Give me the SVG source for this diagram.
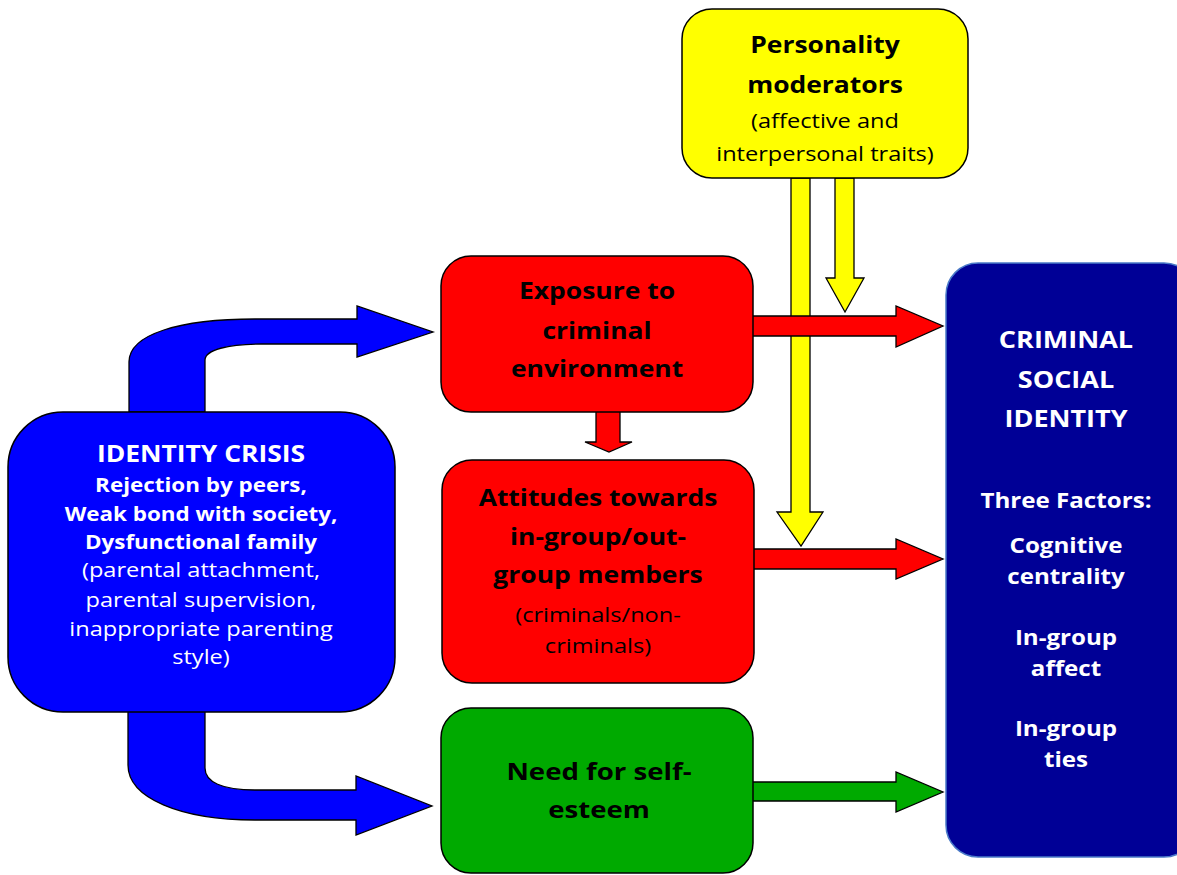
<svg xmlns="http://www.w3.org/2000/svg" width="1177" height="875" viewBox="0 0 1177 875">
<style>
.box{stroke:#000;stroke-width:1.5}
.arr{stroke:#000;stroke-width:1.3;stroke-linejoin:miter}
text{font-family:"Open Sans","Liberation Sans",sans-serif;text-anchor:middle}
.b{font-weight:bold}
.w{fill:#fff}
.k{fill:#000}
</style>
<rect width="1177" height="875" fill="#fff"/>
<g id="connectors">
  <path class="arr" fill="#0000ff" d="M129,412 L129,362 C129,334 180,319 255,319 L357,319 L357,306 L433,332 L357,357 L357,344 L262,344 C228,344 205,350 205,360 L205,412 Z"/>
  <path class="arr" fill="#0000ff" d="M128,710 L128,765 C128,798 180,820 255,820 L356,820 L356,835 L432,806 L356,776 L356,790 L255,790 C222,790 205,782 205,768 L205,710 Z"/>
  <path class="arr" fill="#ffff00" d="M791,178 L791,512 L777,512 L801,546 L823,512 L810,512 L810,178 Z"/>
  <path class="arr" fill="#ffff00" d="M835,178 L835,278 L826,278 L845,312 L864,278 L854,278 L854,178 Z"/>
  <path class="arr" fill="#ff0000" d="M752,316 L896,316 L896,306 L943,326 L896,347 L896,336 L752,336 Z"/>
  <path class="arr" fill="#ff0000" d="M753,549 L896,549 L896,539 L943,559 L896,579 L896,569 L753,569 Z"/>
  <path class="arr" fill="#00aa00" d="M752,782 L896,782 L896,772 L943,792 L896,812 L896,801 L752,801 Z"/>
  <path class="arr" fill="#ff0000" d="M596,411 L596,442 L585,442 L609,452 L632,442 L620,442 L620,411 Z"/>
</g>
<g id="identity-crisis">
  <rect class="box" x="8" y="412" width="387" height="300" rx="55" ry="55" fill="#0000ff"/>
  <g transform="translate(201 0) scale(1.15 1)">
    <text class="b w" x="0" y="462" font-size="23">IDENTITY CRISIS</text>
    <text class="b w" x="0" y="492" font-size="19.5">Rejection by peers,</text>
    <text class="b w" x="0" y="521" font-size="19.5">Weak bond with society,</text>
    <text class="b w" x="0" y="549" font-size="19.5">Dysfunctional family</text>
    <text class="w" x="0" y="577" font-size="20.5">(parental attachment,</text>
    <text class="w" x="0" y="607" font-size="20.5">parental supervision,</text>
    <text class="w" x="0" y="636" font-size="20.5">inappropriate parenting</text>
    <text class="w" x="0" y="664" font-size="20.5">style)</text>
  </g>
</g>
<g id="personality">
  <rect class="box" x="682" y="9" width="286" height="169" rx="30" ry="30" fill="#ffff00"/>
  <g transform="translate(825 0) scale(1.15 1)">
    <text class="b k" x="0" y="53" font-size="23">Personality</text>
    <text class="b k" x="0" y="93" font-size="23">moderators</text>
    <text class="k" x="0" y="128" font-size="20.5">(affective and</text>
    <text class="k" x="0" y="161" font-size="20.5">interpersonal traits)</text>
  </g>
</g>
<g id="exposure">
  <rect class="box" x="441" y="256" width="312" height="156" rx="30" ry="30" fill="#ff0000"/>
  <g transform="translate(597 0) scale(1.15 1)">
    <text class="b k" x="0" y="299" font-size="23">Exposure to</text>
    <text class="b k" x="0" y="339" font-size="23">criminal</text>
    <text class="b k" x="0" y="377" font-size="23">environment</text>
  </g>
</g>
<g id="attitudes">
  <rect class="box" x="442" y="460" width="312" height="223" rx="30" ry="30" fill="#ff0000"/>
  <g transform="translate(598 0) scale(1.15 1)">
    <text class="b k" x="0" y="506" font-size="23">Attitudes towards</text>
    <text class="b k" x="0" y="545" font-size="23">in-group/out-</text>
    <text class="b k" x="0" y="583" font-size="23">group members</text>
    <text class="k" x="0" y="622" font-size="20.5">(criminals/non-</text>
    <text class="k" x="0" y="653" font-size="20.5">criminals)</text>
  </g>
</g>
<g id="self-esteem">
  <rect class="box" x="441" y="708" width="312" height="165" rx="30" ry="30" fill="#00aa00"/>
  <g transform="translate(599 0) scale(1.15 1)">
    <text class="b k" x="0" y="780" font-size="24">Need for self-</text>
    <text class="b k" x="0" y="818" font-size="24">esteem</text>
  </g>
</g>
<g id="criminal-social-identity">
  <rect x="946" y="263" width="250" height="594" rx="32" ry="32" fill="#000096" stroke="#4a7ac8" stroke-width="1.5"/>
  <g transform="translate(1066 0) scale(1.15 1)">
    <text class="b w" x="0" y="348" font-size="23.5">CRIMINAL</text>
    <text class="b w" x="0" y="388" font-size="23.5">SOCIAL</text>
    <text class="b w" x="0" y="427" font-size="23.5">IDENTITY</text>
    <text class="b w" x="0" y="508" font-size="21">Three Factors:</text>
    <text class="b w" x="0" y="553" font-size="21">Cognitive</text>
    <text class="b w" x="0" y="584" font-size="21">centrality</text>
    <text class="b w" x="0" y="645" font-size="21">In-group</text>
    <text class="b w" x="0" y="676" font-size="21">affect</text>
    <text class="b w" x="0" y="736" font-size="21">In-group</text>
    <text class="b w" x="0" y="767" font-size="21">ties</text>
  </g>
</g>
</svg>
